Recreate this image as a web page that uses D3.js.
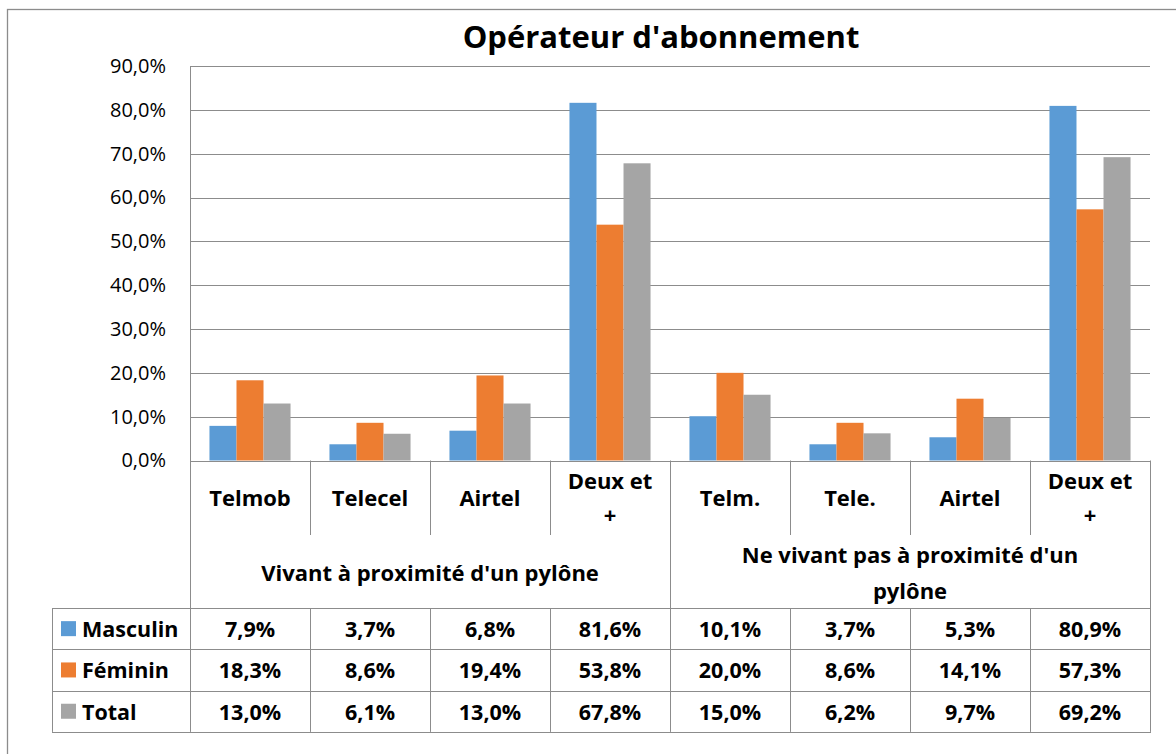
<!DOCTYPE html>
<html>
<head>
<meta charset="utf-8">
<title>Opérateur d'abonnement</title>
<style>
  body { margin: 0; background: #fff; }
  svg { display: block; font-family: "Open Sans", sans-serif; }
  .grid line { stroke: #8c8c8c; stroke-width: 1; }
  .frame { stroke: #8c8c8c; stroke-width: 1.3; fill: none; }
  .bold { font-weight: bold; fill: #000; }
</style>
</head>
<body>
<script src="https://cdn.jsdelivr.net/npm/d3@7"></script>
<script>
// data
var title = "Opérateur d'abonnement";
var categories = ["Telmob", "Telecel", "Airtel", "Deux et\n+", "Telm.", "Tele.", "Airtel", "Deux et\n+"];
var groups = ["Vivant à proximité d'un pylône", "Ne vivant pas à proximité d'un\npylône"];
var groupSize = 4;
var seriesNames = ["Masculin", "Féminin", "Total"];
var masculin = [7.9, 3.7, 6.8, 81.6, 10.1, 3.7, 5.3, 80.9];
var feminin = [18.3, 8.6, 19.4, 53.8, 20.0, 8.6, 14.1, 57.3];
var total = [13.0, 6.1, 13.0, 67.8, 15.0, 6.2, 9.7, 69.2];
var yTicks = [0, 10, 20, 30, 40, 50, 60, 70, 80, 90];
var colors = ["#5b9bd5", "#ed7d31", "#a5a5a5"];

var series = [masculin, feminin, total];

var W = 1176, H = 754;
var plotLeft = 190, plotRight = 1150, plotTop = 66, plotBase = 460.5;
var catBottom = 535, groupBottom = 608, rowH = 41.3, tableLeft = 52;

var svg = d3.select("body").append("svg")
    .attr("width", W)
    .attr("height", H);

// outer chart border (runs off the picture on right and bottom)
svg.append("rect")
    .attr("class", "frame")
    .attr("x", 7.5).attr("y", 9.5)
    .attr("width", W + 20).attr("height", H + 20);

var x0 = d3.scaleBand().domain(d3.range(categories.length)).range([plotLeft, plotRight]);
var x1 = d3.scaleBand().domain(d3.range(series.length))
    .range([0, x0.bandwidth()]).paddingOuter(0.72);
var y = d3.scaleLinear().domain([0, 90]).range([plotBase, plotTop]);

var fmt = function (v) { return d3.format(".1f")(v).replace(".", ",") + "%"; };

// gridlines
svg.append("g").attr("class", "grid")
    .selectAll("line").data(yTicks).enter().append("line")
    .attr("x1", plotLeft).attr("x2", plotRight)
    .attr("y1", function (d) { return Math.round(y(d)) + 0.5; })
    .attr("y2", function (d) { return Math.round(y(d)) + 0.5; });

// y axis labels
var yAxis = svg.append("g")
    .attr("transform", "translate(" + plotLeft + ",0)")
    .call(d3.axisLeft(y).tickValues(yTicks).tickFormat(fmt).tickSize(0).tickPadding(24));
yAxis.select(".domain").remove();
yAxis.selectAll("text")
    .style("font-family", "'Open Sans', sans-serif")
    .style("font-size", "20px")
    .attr("fill", "#000");

// bars
var cat = svg.append("g").selectAll("g")
    .data(categories).enter().append("g")
    .attr("transform", function (d, i) { return "translate(" + x0(i) + ",0)"; });

cat.selectAll("rect")
    .data(function (d, i) { return series.map(function (s, k) { return {k: k, v: s[i]}; }); })
    .enter().append("rect")
    .attr("x", function (d) { return x1(d.k); })
    .attr("width", x1.bandwidth())
    .attr("y", function (d) { return y(d.v); })
    .attr("height", function (d) { return plotBase - y(d.v); })
    .attr("fill", function (d) { return colors[d.k]; });

// category axis lines
var lines = svg.append("g").attr("class", "grid");
lines.append("line").attr("x1", plotLeft + 0.5).attr("x2", plotLeft + 0.5).attr("y1", plotTop).attr("y2", groupBottom);
lines.selectAll(".cat").data(d3.range(1, categories.length)).enter().append("line")
    .attr("x1", function (i) { return Math.round(x0(i)) + 0.5; })
    .attr("x2", function (i) { return Math.round(x0(i)) + 0.5; })
    .attr("y1", plotBase)
    .attr("y2", function (i) { return i % groupSize === 0 ? groupBottom : catBottom; });
lines.append("line").attr("x1", plotRight + 0.5).attr("x2", plotRight + 0.5).attr("y1", plotBase).attr("y2", groupBottom);

function multiline(sel, text, cx, cy, lh, size) {
    var parts = text.split("\n");
    parts.forEach(function (p, j) {
        sel.append("text")
            .attr("class", "bold")
            .attr("x", cx)
            .attr("y", cy + (j - (parts.length - 1) / 2) * lh)
            .attr("text-anchor", "middle")
            .attr("dominant-baseline", "central")
            .style("font-size", size + "px")
            .text(p);
    });
}

// category labels
var labels = svg.append("g");
categories.forEach(function (c, i) {
    multiline(labels, c, x0(i) + x0.bandwidth() / 2, 497, 34, 22);
});

// group labels
groups.forEach(function (g, j) {
    var gx = x0(j * groupSize);
    var gw = x0.bandwidth() * groupSize;
    multiline(labels, g, gx + gw / 2, 572, 36, 22);
});

// data table
var table = svg.append("g");
var rows = d3.range(series.length + 1).map(function (r) { return groupBottom + r * rowH; });
table.append("g").attr("class", "grid").selectAll("line").data(rows).enter().append("line")
    .attr("x1", tableLeft).attr("x2", plotRight + 1)
    .attr("y1", function (d) { return Math.round(d) + 0.5; })
    .attr("y2", function (d) { return Math.round(d) + 0.5; });
var cols = [tableLeft].concat(d3.range(categories.length).map(function (i) { return x0(i); }), [plotRight]);
table.append("g").attr("class", "grid").selectAll("line").data(cols).enter().append("line")
    .attr("x1", function (d) { return Math.round(d) + 0.5; })
    .attr("x2", function (d) { return Math.round(d) + 0.5; })
    .attr("y1", groupBottom)
    .attr("y2", rows[rows.length - 1]);

series.forEach(function (s, k) {
    var cy = groupBottom + k * rowH + rowH / 2;
    table.append("rect")
        .attr("x", 61).attr("y", cy - 7.5)
        .attr("width", 15).attr("height", 15)
        .attr("fill", colors[k]);
    table.append("text")
        .attr("class", "bold")
        .attr("x", 82).attr("y", cy)
        .attr("dominant-baseline", "central")
        .style("font-size", "21.5px")
        .text(seriesNames[k]);
    s.forEach(function (v, i) {
        table.append("text")
            .attr("class", "bold")
            .attr("x", x0(i) + x0.bandwidth() / 2).attr("y", cy)
            .attr("text-anchor", "middle")
            .attr("dominant-baseline", "central")
            .style("font-size", "21.5px")
            .text(fmt(v));
    });
});

// title
svg.append("text")
    .attr("class", "bold")
    .attr("x", 661).attr("y", 36)
    .attr("text-anchor", "middle")
    .attr("dominant-baseline", "central")
    .style("font-size", "31px")
    .text(title);
</script>
</body>
</html>
